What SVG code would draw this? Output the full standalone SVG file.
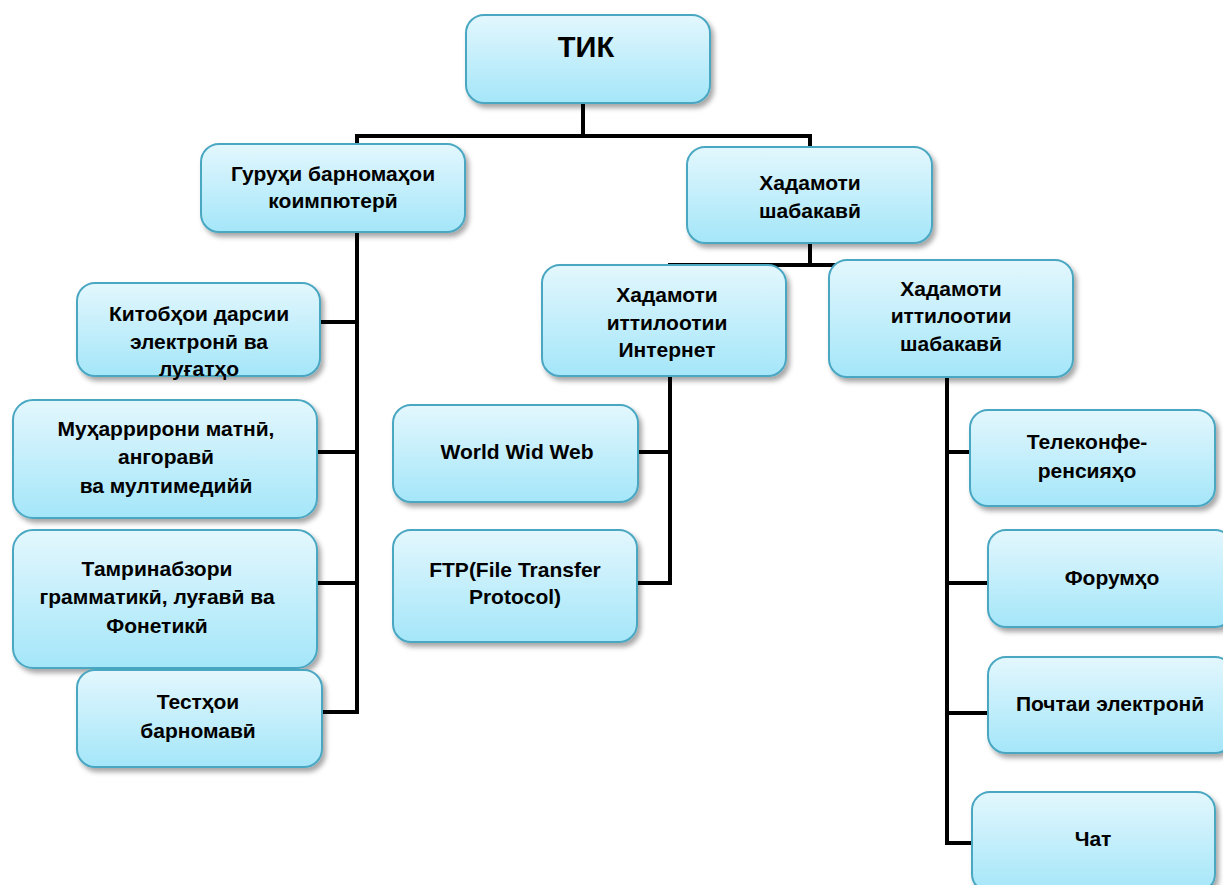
<svg xmlns="http://www.w3.org/2000/svg" width="1223" height="885" viewBox="0 0 1223 885">
<style>
.box{fill:url(#g);stroke:#4aa7c2;stroke-width:2;filter:url(#sh)}
.t{font-family:"Liberation Sans",Arial,sans-serif;font-weight:bold;font-size:21px;fill:#000;text-anchor:middle}
.c{stroke:#000;stroke-width:4;fill:none;stroke-linecap:square}
</style>
<defs>
<linearGradient id="g" x1="0" y1="0" x2="0" y2="1">
<stop offset="0" stop-color="#e3f7fd"/>
<stop offset="1" stop-color="#a4e6f9"/>
</linearGradient>
<filter id="sh" x="-10%" y="-10%" width="125%" height="130%">
<feDropShadow dx="3" dy="4" stdDeviation="2.5" flood-color="#000" flood-opacity="0.35"/>
</filter>
</defs>
<rect width="1223" height="885" fill="#fff"/>
<g id="connectors" class="c">
<path d="M583 103V136M357 136H810V265M357 136V712"/>
<path d="M320 322H357M317 452H357M317 583H357M322 712H357"/>
<path d="M670 265H947M670 376V583M638 452H670M637 583H670"/>
<path d="M947 377V843M947 452H970M947 583H988M947 713H988M947 843H972"/>
</g>
<g id="n-tik"><rect class="box" x="466" y="15" width="244" height="88" rx="18"/><text class="t" x="586" y="57" style="font-size:29px">ТИК</text></g>
<g id="n-guruh"><rect class="box" x="201" y="144" width="264" height="88" rx="18"/><text class="t" x="333" y="181">Гуруҳи барномаҳои</text><text class="t" x="333" y="208">коимпютерӣ</text></g>
<g id="n-xadamot"><rect class="box" x="687" y="147" width="245" height="96" rx="18"/><text class="t" x="810" y="190">Хадамоти</text><text class="t" x="810" y="218">шабакавӣ</text></g>
<g id="n-kitob"><rect class="box" x="77" y="283" width="243" height="93" rx="18"/><text class="t" x="199" y="321">Китобҳои дарсии</text><text class="t" x="199" y="349">электронӣ ва</text><text class="t" x="199" y="376">луғатҳо</text></g>
<g id="n-muharrir"><rect class="box" x="13" y="400" width="304" height="118" rx="20"/><text class="t" x="166" y="436">Муҳаррирони матнӣ,</text><text class="t" x="166" y="464">ангоравӣ</text><text class="t" x="166" y="493">ва мултимедийӣ</text></g>
<g id="n-tamrin"><rect class="box" x="13" y="530" width="304" height="138" rx="20"/><text class="t" x="157" y="576">Тамринабзори</text><text class="t" x="157" y="604">грамматикӣ, луғавӣ ва</text><text class="t" x="157" y="633">Фонетикӣ</text></g>
<g id="n-test"><rect class="box" x="77" y="670" width="245" height="97" rx="18"/><text class="t" x="198" y="709">Тестҳои</text><text class="t" x="198" y="738">барномавӣ</text></g>
<g id="n-internet"><rect class="box" x="542" y="265" width="244" height="111" rx="18"/><text class="t" x="667" y="302">Хадамоти</text><text class="t" x="667" y="330">иттилоотии</text><text class="t" x="667" y="357">Интернет</text></g>
<g id="n-network"><rect class="box" x="829" y="260" width="244" height="117" rx="18"/><text class="t" x="951" y="296">Хадамоти</text><text class="t" x="951" y="323">иттилоотии</text><text class="t" x="951" y="351">шабакавӣ</text></g>
<g id="n-www"><rect class="box" x="393" y="405" width="245" height="97" rx="18"/><text class="t" x="517" y="459">World Wid Web</text></g>
<g id="n-ftp"><rect class="box" x="393" y="530" width="244" height="112" rx="18"/><text class="t" x="515" y="577">FTP(File Transfer</text><text class="t" x="515" y="604">Protocol)</text></g>
<g id="n-tele"><rect class="box" x="970" y="410" width="245" height="96" rx="18"/><text class="t" x="1087" y="449">Телеконфе-</text><text class="t" x="1087" y="478">ренсияҳо</text></g>
<g id="n-forum"><rect class="box" x="988" y="530" width="245" height="97" rx="18"/><text class="t" x="1112" y="585">Форумҳо</text></g>
<g id="n-pochta"><rect class="box" x="988" y="657" width="245" height="96" rx="18"/><text class="t" x="1110" y="711">Почтаи электронӣ</text></g>
<g id="n-chat"><rect class="box" x="972" y="792" width="243" height="100" rx="18"/><text class="t" x="1093" y="846">Чат</text></g>
</svg>
